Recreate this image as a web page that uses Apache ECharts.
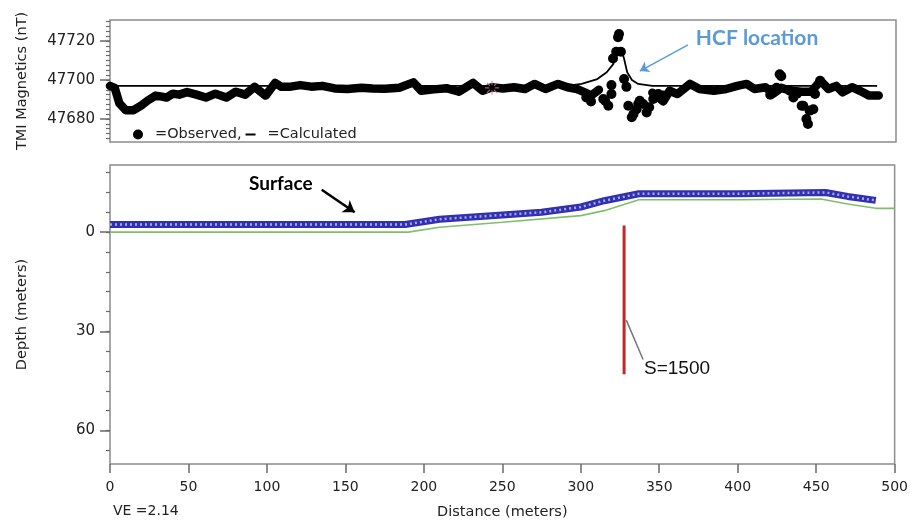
<!DOCTYPE html>
<html><head><meta charset="utf-8">
<script src="https://cdn.jsdelivr.net/npm/echarts@6/dist/echarts.min.js"></script>
<style>html,body{margin:0;padding:0;background:#fff}#c{width:911px;height:525px}</style>
</head><body><div id="c"></div>
<script>
// ---------- DATA ----------
// Observed TMI trace (distance m, nT); '-' breaks the trace
const obsD = [0,3,6,10,15,20,24,29,33,36,40,44,49,55,61,67,74,80,86,92,99,105,109,114,121,128,135,143,151,160,167,175,184,193,198,206,214,222,231,237,243,250,257,264,270,277,285,291,297,302,306,311,
  328,
  345,352,356,361,369,375,384,392,399,405,410,417,422,427,433,440,446,452,457,462,466,472,477,483,489];
const obsV = [47697,47696,47688,47684.5,47684.5,47687,47689.5,47692,47691.5,47691,47693,47692.5,47693.8,47692.5,47691,47693,47691,47694,47692.5,47696.5,47692,47698.5,47696.5,47696.5,47697.4,47696.6,47697,47695.7,47695.4,47696,47695.6,47695.5,47696,47698.8,47694.5,47695.2,47695.8,47694,47698.5,47694.5,47696.3,47695.7,47696.3,47695.4,47698,47695.4,47698,47696.3,47695.4,47693.7,47692,47695,
  '-',
  47693.5,47689,47694.5,47692.8,47698,47695.4,47694.5,47695.4,47697,47698,47695.4,47696.3,47693,47696,47694.5,47694,47694,47699.6,47695.4,47697,47693.7,47696.3,47694.5,47692,47692];
// Scattered observed readings
const dotD = [303,306,313.8,315,317,319,319,320,322,325,323.8,323.2,327,328.5,329.7,331.9,333,335,336,339.2,341.4,343,337,345.6,348.8,351.8,420,424,426,427,432.6,434.7,437,440,441,443,444,445,447.4,448.5,451.7];
const dotV = [47691,47689,47690.3,47689.4,47686.8,47692.8,47697.4,47711,47714.5,47714.5,47723.6,47722,47700.5,47696.5,47686.8,47680.9,47682.5,47685,47687.7,47687.7,47683.4,47686,47689.4,47690.3,47692.8,47692,47692.5,47696,47703,47702,47694.5,47691,47693,47686.8,47686.8,47680,47677.4,47684.3,47685,47692.8,47699.6];
// Calculated curve
const calcD = [0,290,300,310,316,320,323,325,327,329,332,336,345,488];
const calcV = [47697,47697,47698,47700.5,47704,47708,47714,47716,47711,47704,47700,47698,47697,47697];
// Marked station
const starD = [243], starV = [47696];
// Surface (depth m, negative = above datum)
const surfD = [0,188,210,250,275,300,315,337,400,456,470,488];
const surfZ = [-2.3,-2.3,-3.9,-5.2,-6,-7.6,-9.5,-11.6,-11.6,-12,-10.8,-9.6];
const baseD = [0,190,210,250,300,315,337,400,453,470,488,500];
const baseZ = [0,0,-1.5,-3,-5,-6.5,-9.8,-9.8,-10,-8.5,-7.2,-7.2];
// Source body (S=1500)
const srcD = [327.6,327.6], srcZ = [-2,43];
// Axis ticks
const xTicks = [0,50,100,150,200,250,300,350,400,450,500];
const magLabels = [47680,47700,47720];
const magMinor = [47670,47672.5,47675,47677.5,47680,47682.5,47685,47687.5,47690,47692.5,47695,47697.5,47700,47702.5,47705,47707.5,47710,47712.5,47715,47717.5,47720,47722.5,47725,47727.5,47730];
const depthLabels = [0,30,60];
const depthMinor = [-18,-12,-6,0,6,12,18,24,30,36,42,48,54,60,66];

const zip = (a,b)=>a.map((v,i)=>[v,b[i]]);
const F = 'DejaVu Sans';
const tickCol = '#6a6a6a';

const chart = echarts.init(document.getElementById('c'), null, {renderer:'canvas'});
const yMajor = (gi, min, max, labels, name, inverse) => ({
  type:'value', gridIndex:gi, position:'left', min, max, inverse:!!inverse,
  name, nameLocation:'middle', nameGap:80, nameRotate:90,
  nameTextStyle:{fontFamily:F,fontSize:14.5,color:'#222'},
  axisLine:{show:false, onZero:false}, splitLine:{show:false},
  axisTick:{show:true, customValues:labels, length:10, lineStyle:{color:tickCol,width:1.5}},
  axisLabel:{show:true, customValues:labels, formatter:v=>String(v), fontFamily:F, fontSize:15, color:'#222', margin:15}
});
const yMinor = (gi, min, max, vals, inverse) => ({
  type:'value', gridIndex:gi, position:'left', min, max, inverse:!!inverse,
  axisLine:{show:false, onZero:false}, splitLine:{show:false},
  axisTick:{show:true, customValues:vals, length:4, lineStyle:{color:tickCol,width:1.2}},
  axisLabel:{show:false}
});

chart.setOption({
  animation:false,
  backgroundColor:'#fff',
  grid:[
    {left:110, top:20, width:786, height:122, show:true, borderColor:'#8c8c8c', borderWidth:1.5},
    {left:110, top:165, width:786, height:303, show:true, borderColor:'#8c8c8c', borderWidth:1.5}
  ],
  legend:{
    left:128, top:122, itemGap:4, itemWidth:10, itemHeight:10,
    textStyle:{fontFamily:F, fontSize:14.5, color:'#222', padding:[0,0,0,7]},
    data:[
      {name:'=Observed,', icon:'circle'},
      {name:'=Calculated', icon:'path://M0,8L10,8L10,10L0,10Z'}
    ],
    selectedMode:false
  },
  xAxis:[
    {type:'value', gridIndex:0, min:0, max:500, interval:50, axisLine:{show:false, onZero:false}, axisTick:{show:false}, axisLabel:{show:false}, splitLine:{show:false}},
    {type:'value', gridIndex:1, position:'bottom', min:0, max:500, interval:50,
      name:'Distance (meters)', nameLocation:'middle', nameGap:41,
      nameTextStyle:{fontFamily:F,fontSize:14.5,color:'#222'},
      axisLine:{show:false, onZero:false}, splitLine:{show:false},
      axisTick:{show:true, length:9, lineStyle:{color:tickCol,width:1.5}},
      axisLabel:{fontFamily:F,fontSize:14,color:'#222',margin:16}}
  ],
  yAxis:[
    yMajor(0, 47668.2, 47730.8, magLabels, 'TMI Magnetics (nT)'),
    yMinor(0, 47668.2, 47730.8, magMinor),
    yMajor(1, -20.3, 70.1, depthLabels, 'Depth (meters)', true),
    yMinor(1, -20.3, 70.1, depthMinor, true)
  ],
  graphic:[
    {type:'text', left:113, top:504, style:{text:'VE =2.14', fontFamily:F, fontSize:14, fill:'#222'}}
  ],
  series:[
    {name:'=Observed,', type:'line', xAxisIndex:0, yAxisIndex:0, data:zip(obsD,obsV), symbol:'none',
      lineStyle:{color:'#000', width:8.5, cap:'round', join:'round'}, itemStyle:{color:'#000'}, z:3},
    {name:'=Observed,', type:'scatter', xAxisIndex:0, yAxisIndex:0, data:zip(dotD,dotV), symbolSize:10,
      itemStyle:{color:'#000', opacity:1}, z:3},
    {name:'=Calculated', type:'line', xAxisIndex:0, yAxisIndex:0, data:zip(calcD,calcV), symbol:'none',
      lineStyle:{color:'#000', width:1.8}, itemStyle:{color:'#000'}, z:4,
      markLine:{silent:true, symbol:['none','arrow'], symbolSize:9,
        lineStyle:{color:'#5b9bd5', width:1.5, type:'solid'}, label:{show:false},
        data:[[{coord:[367.7,47718]},{coord:[337,47704.6]}]]},
      markPoint:{silent:true, symbol:'circle', symbolSize:0,
        label:{show:true, position:'inside', formatter:'HCF location', fontFamily:'Lato', fontWeight:'bold', fontSize:21, color:'#5b9bd5'},
        data:[{coord:[411.6,47721.5]}]}},
    {name:'station', type:'scatter', xAxisIndex:0, yAxisIndex:0, data:zip(starD,starV), symbolSize:14,
      symbol:'path://M0,-10L0,-4M0,4L0,10M-10,0L-4,0M4,0L10,0M-7,-7L-3,-3M3,3L7,7M-7,7L-3,3M3,-3L7,-7',
      itemStyle:{color:'rgba(0,0,0,0)', borderColor:'#c77a8a', borderWidth:1.2}, z:5},
    {name:'base', type:'line', xAxisIndex:1, yAxisIndex:2, data:zip(baseD,baseZ), symbol:'none',
      lineStyle:{color:'#7fbf6a', width:1.6}, z:2},
    {name:'surface', type:'line', xAxisIndex:1, yAxisIndex:2, data:zip(surfD,surfZ), symbol:'none',
      lineStyle:{color:'#3030b0', width:7}, z:3,
      markLine:{silent:true, symbol:['none','arrow'], symbolSize:11,
        lineStyle:{color:'#000', width:2.5, type:'solid'}, label:{show:false},
        data:[[{coord:[134.9,-12.8]},{coord:[155.9,-6]}]]},
      markPoint:{silent:true, symbol:'circle', symbolSize:0,
        label:{show:true, position:'inside', formatter:'Surface', fontFamily:'Lato', fontWeight:'bold', fontSize:19, color:'#000'},
        data:[{coord:[108.8,-14.6]}]}},
    {name:'surfaceTex', type:'line', xAxisIndex:1, yAxisIndex:2, data:zip(surfD,surfZ), symbol:'none',
      lineStyle:{color:'#a8a8e8', width:2.5, type:[2,3]}, z:4},
    {name:'source', type:'line', xAxisIndex:1, yAxisIndex:2, data:zip(srcD,srcZ), symbol:'none',
      lineStyle:{color:'#c1272d', width:3}, z:5,
      markLine:{silent:true, symbol:['none','none'],
        lineStyle:{color:'#777', width:1.5, type:'solid'}, label:{show:false},
        data:[[{coord:[329,26.6]},{coord:[339.7,38.5]}]]},
      markPoint:{silent:true, symbol:'circle', symbolSize:0,
        label:{show:true, position:'right', distance:0, formatter:'S=1500', fontFamily:'Liberation Sans', fontSize:19, color:'#111'},
        data:[{coord:[340.3,41.2]}]}}
  ]
});
</script></body></html>
